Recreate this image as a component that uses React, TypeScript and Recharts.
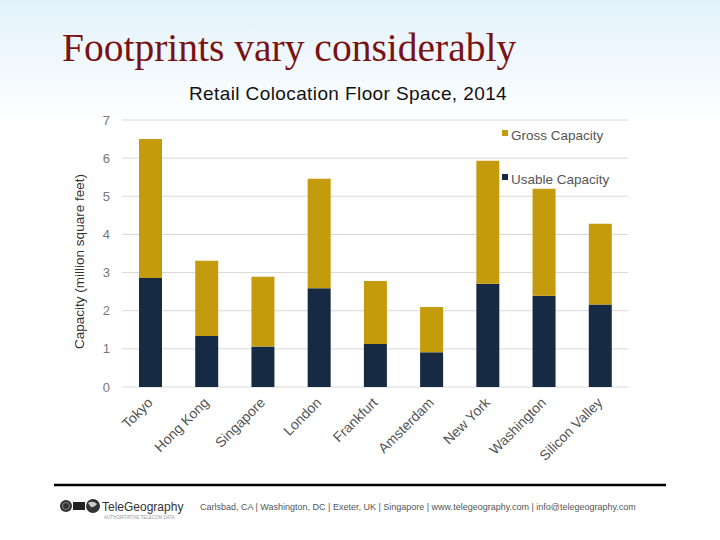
import { BarChart, Bar, XAxis, YAxis, CartesianGrid, Legend } from "recharts";

const cities = [
  "Tokyo",
  "Hong Kong",
  "Singapore",
  "London",
  "Frankfurt",
  "Amsterdam",
  "New York",
  "Washington",
  "Silicon Valley",
];
const grossCapacity = [6.5, 3.31, 2.89, 5.46, 2.78, 2.1, 5.93, 5.2, 4.28];
const usableCapacity = [2.86, 1.34, 1.06, 2.59, 1.13, 0.91, 2.71, 2.39, 2.16];
const yTicks = [0, 1, 2, 3, 4, 5, 6, 7];

const GOLD = "#c49b0d";
const NAVY = "#172a43";
const SANS = "'Liberation Sans', Arial, Helvetica, sans-serif";

// gold segment sits on top of usable, so its height is gross - usable
const data = cities.map((city, i) => ({
  city,
  usable: usableCapacity[i],
  extra: +(grossCapacity[i] - usableCapacity[i]).toFixed(2),
}));

function CityTick(props: any) {
  const { x, y, payload } = props;
  return (
    <g transform={`translate(${x},${y + 5})`}>
      <text
        transform="rotate(-45)"
        textAnchor="end"
        dy="0.35em"
        fontSize={14}
        fontFamily={SANS}
        fill="#555"
      >
        {payload.value}
      </text>
    </g>
  );
}

function YLabel(props: any) {
  const vb = props.viewBox || {};
  const cx = vb.x + 19;
  const cy = vb.y + vb.height / 2 + 8;
  return (
    <text
      x={cx}
      y={cy}
      transform={`rotate(-90 ${cx} ${cy})`}
      textAnchor="middle"
      dominantBaseline="central"
      fontSize={13.5}
      fontFamily={SANS}
      fill="#333"
    >
      Capacity (million square feet)
    </text>
  );
}

function LegendBox(props: any) {
  const items = props.payload || [];
  const order = ["Gross Capacity", "Usable Capacity"];
  const sorted = [...items].sort(
    (a: any, b: any) => order.indexOf(a.value) - order.indexOf(b.value)
  );
  return (
    <div style={{ fontFamily: SANS }}>
      {sorted.map((item: any) => (
        <div
          key={item.value}
          style={{
            display: "flex",
            alignItems: "center",
            height: 18,
            marginBottom: 26,
            fontSize: 13.5,
            color: "#555",
          }}
        >
          <span
            style={{
              display: "inline-block",
              width: 6,
              height: 6,
              background: item.color,
              marginRight: 3,
              marginTop: -4,
            }}
          />
          {item.value}
        </div>
      ))}
    </div>
  );
}

function Decor() {
  return (
    <svg
      width={720}
      height={540}
      style={{ position: "absolute", left: 0, top: 0 }}
    >
      <defs>
        <linearGradient id="bg" x1="0" y1="0" x2="0" y2="1">
          <stop offset="0" stopColor="#e2f2fb" />
          <stop offset="1" stopColor="#ffffff" />
        </linearGradient>
      </defs>
      <rect x={0} y={0} width={720} height={540} fill="#fff" />
      <rect x={0} y={0} width={720} height={125} fill="url(#bg)" />
      <text
        x={62}
        y={61}
        fontSize={39.5}
        fontFamily="'Liberation Serif', 'Times New Roman', serif"
        fill="#7a1214"
      >
        Footprints vary considerably
      </text>
      <text
        x={348}
        y={100}
        textAnchor="middle"
        fontSize={19}
        letterSpacing={0.4}
        fontFamily={SANS}
        fill="#111"
      >
        Retail Colocation Floor Space, 2014
      </text>
      <line x1={54} y1={485} x2={666} y2={485} stroke="#000" strokeWidth={2.5} />
      <circle cx={66} cy={506} r={6} fill="#333" />
      <circle cx={66} cy={506} r={3.5} fill="none" stroke="#999" strokeWidth={0.8} />
      <rect x={73} y={502} width={12} height={8} fill="#222" />
      <circle cx={93} cy={506} r={7} fill="#333" />
      <path d="M88 503 q5 -3 9 1 q-3 4 -6 3 z" fill="#ccc" />
      <text x={102} y={511} fontSize={12} fontFamily={SANS} fill="#333">
        TeleGeography
      </text>
      <text x={104} y={519} fontSize={4.5} fontFamily={SANS} fill="#999">
        AUTHORITATIVE TELECOM DATA
      </text>
      <text x={200} y={510} fontSize={9} fontFamily={SANS} fill="#555">
        Carlsbad, CA | Washington, DC | Exeter, UK | Singapore | www.telegeography.com | info@telegeography.com
      </text>
    </svg>
  );
}

export default function App() {
  return (
    <div
      style={{
        position: "absolute",
        left: 0,
        top: 0,
        width: 720,
        height: 540,
        overflow: "hidden",
        background: "#fff",
      }}
    >
      <Decor />
      <div style={{ position: "absolute", left: 0, top: 0 }}>
        <BarChart
          width={720}
          height={540}
          data={data}
          margin={{ top: 120, right: 92, left: 60, bottom: 73 }}
          barSize={23}
        >
          <CartesianGrid vertical={false} stroke="#d9d9d9" />
          <XAxis
            dataKey="city"
            height={80}
            interval={0}
            axisLine={false}
            tickLine={false}
            tick={<CityTick />}
          />
          <YAxis
            width={62}
            domain={[0, 7]}
            ticks={yTicks}
            axisLine={false}
            tickLine={false}
            tickSize={0}
            tickMargin={12}
            tick={{ fill: "#777", fontSize: 13, fontFamily: SANS }}
            label={<YLabel />}
          />
          <Legend
            verticalAlign="middle"
            align="center"
            layout="horizontal"
            content={<LegendBox />}
            wrapperStyle={{ position: "absolute", top: 126, left: 502, width: 140 }}
          />
          <Bar
            dataKey="usable"
            name="Usable Capacity"
            stackId="cap"
            fill={NAVY}
            isAnimationActive={false}
          />
          <Bar
            dataKey="extra"
            name="Gross Capacity"
            stackId="cap"
            fill={GOLD}
            isAnimationActive={false}
          />
        </BarChart>
      </div>
    </div>
  );
}
